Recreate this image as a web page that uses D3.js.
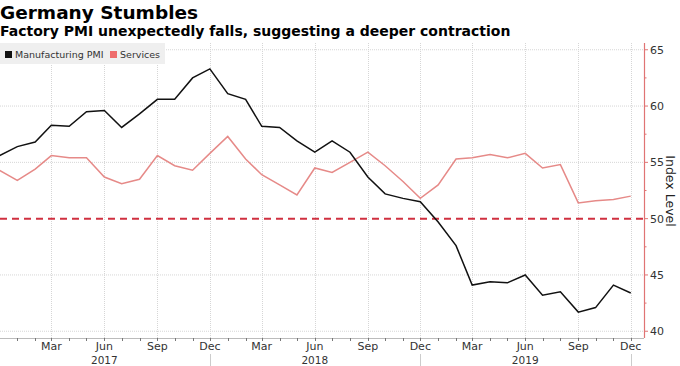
<!DOCTYPE html>
<html><head><meta charset="utf-8">
<script src="https://cdn.jsdelivr.net/npm/d3@7"></script>
<style>
html,body{margin:0;padding:0;background:#fff;}
svg{display:block;font-family:"DejaVu Sans",Verdana,sans-serif;}
</style></head>
<body>
<svg id="chart" width="680" height="366"></svg>
<script>
const months = ["2016-12","2017-01","2017-02","2017-03","2017-04","2017-05","2017-06","2017-07","2017-08","2017-09","2017-10","2017-11","2017-12",
"2018-01","2018-02","2018-03","2018-04","2018-05","2018-06","2018-07","2018-08","2018-09","2018-10","2018-11","2018-12",
"2019-01","2019-02","2019-03","2019-04","2019-05","2019-06","2019-07","2019-08","2019-09","2019-10","2019-11","2019-12"];
const manufacturing = [55.6,56.4,56.8,58.3,58.2,59.5,59.6,58.1,59.3,60.6,60.6,62.5,63.3,
61.1,60.6,58.2,58.1,56.9,55.9,56.9,55.9,53.7,52.2,51.8,51.5,
49.7,47.6,44.1,44.4,44.3,45.0,43.2,43.5,41.7,42.1,44.1,43.4];
const services = [54.3,53.4,54.4,55.6,55.4,55.4,53.7,53.1,53.5,55.6,54.7,54.3,55.8,
57.3,55.3,53.9,53.0,52.1,54.5,54.1,55.0,55.9,54.7,53.3,51.8,
53.0,55.3,55.4,55.7,55.4,55.8,54.5,54.8,51.4,51.6,51.7,52.0];
const seriesNames = ["Manufacturing PMI","Services"];
const yTicks = [40,45,50,55,60,65];
const yMinorTicks = [42.5,47.5,52.5,57.5,62.5];
const monthLabels = ["Mar","Jun","Sep","Dec"];
const years = [2017,2018,2019];
const threshold = 50;
const title = "Germany Stumbles";
const subtitle = "Factory PMI unexpectedly falls, suggesting a deeper contraction";
const yTitle = "Index Level";

const parse = d3.timeParse("%Y-%m");
const dates = months.map(parse);

const svg = d3.select("#chart");
const L = 0, R = 644, T = 43, B = 338;
const x = d3.scaleTime().domain([new Date(2016,11,2), new Date(2019,11,24)]).range([L, R]);
const y = d3.scaleLinear().domain([39.4, 65.6]).range([B, T]);

// titles
svg.append("text").attr("x",0).attr("y",19).attr("font-size",18.5).attr("font-weight","bold").attr("fill","#000").text(title);
svg.append("text").attr("x",0).attr("y",36).attr("font-size",14).attr("font-weight","bold").attr("fill","#000").text(subtitle);

// grid
const grid = svg.append("g");
yTicks.filter(v=>v!==threshold).forEach(v=>{
  grid.append("line").attr("x1",L).attr("x2",R).attr("y1",y(v)).attr("y2",y(v))
    .attr("stroke","#d6d6d6").attr("stroke-width",1).attr("stroke-dasharray","1,1");
});
const allMonths = d3.timeMonth.range(new Date(2016,11,1), new Date(2020,0,1)).filter(d=>x(d)>=L && x(d)<=R);
const quarterTicks = allMonths.filter(d=>[2,5,8,11].includes(d.getMonth()));
quarterTicks.forEach(d=>{
  grid.append("line").attr("x1",Math.round(x(d))+0.5).attr("x2",Math.round(x(d))+0.5).attr("y1",T).attr("y2",B)
    .attr("stroke","#d6d6d6").attr("stroke-width",1).attr("stroke-dasharray","1,1");
});

// bottom axis
const xAxis = svg.append("g");
xAxis.append("line").attr("x1",L).attr("x2",R).attr("y1",B+0.5).attr("y2",B+0.5).attr("stroke","#bbb");
allMonths.forEach(d=>{
  xAxis.append("line").attr("x1",Math.round(x(d))+0.5).attr("x2",Math.round(x(d))+0.5).attr("y1",B).attr("y2",B+3).attr("stroke","#777");
});
quarterTicks.forEach(d=>{
  xAxis.append("text").attr("x",x(d)).attr("y",350).attr("text-anchor","middle")
    .attr("font-size",11).attr("fill","#333").text(monthLabels[[2,5,8,11].indexOf(d.getMonth())]);
});
years.forEach(yr=>{
  const sep = new Date(yr,11,1);
  xAxis.append("line").attr("x1",Math.round(x(sep))+0.5).attr("x2",Math.round(x(sep))+0.5).attr("y1",354).attr("y2",366).attr("stroke","#ccc");
  xAxis.append("text").attr("x",x(new Date(yr,5,1))).attr("y",363.5).attr("text-anchor","middle")
    .attr("font-size",10.5).attr("fill","#333").text(yr);
});

// threshold line
svg.append("line").attr("x1",L).attr("x2",R).attr("y1",y(threshold)).attr("y2",y(threshold))
  .attr("stroke","#d03040").attr("stroke-width",2).attr("stroke-dasharray","7,5");

// lines
svg.append("clipPath").attr("id","clip").append("rect").attr("x",L).attr("y",T).attr("width",R-L).attr("height",B-T);
const line = d3.line().x((d,i)=>x(dates[i])).y(d=>y(d));
svg.append("path").datum(services).attr("clip-path","url(#clip)").attr("d",line)
  .attr("fill","none").attr("stroke","#e68a88").attr("stroke-width",1.5);
svg.append("path").datum(manufacturing).attr("clip-path","url(#clip)").attr("d",line)
  .attr("fill","none").attr("stroke","#111").attr("stroke-width",1.5);

// right axis
const yAxis = svg.append("g");
yAxis.append("line").attr("x1",R+0.5).attr("x2",R+0.5).attr("y1",T).attr("y2",B).attr("stroke","#e07474").attr("stroke-width",1.2);
yTicks.forEach(v=>{
  yAxis.append("line").attr("x1",R).attr("x2",R+4).attr("y1",y(v)).attr("y2",y(v)).attr("stroke","#e07474");
  yAxis.append("text").attr("x",650).attr("y",y(v)).attr("dy","0.36em").attr("font-size",11).attr("fill","#333").text(v);
});
yMinorTicks.forEach(v=>{
  yAxis.append("line").attr("x1",R).attr("x2",R+2.5).attr("y1",y(v)).attr("y2",y(v)).attr("stroke","#e07474");
});
svg.append("text").attr("transform","translate(666,191) rotate(90)").attr("text-anchor","middle")
  .attr("font-size",12.5).attr("fill","#222").text(yTitle);

// legend
const lg = svg.append("g");
lg.append("rect").attr("x",0).attr("y",43).attr("width",165).attr("height",21).attr("fill","#efefef");
const lcol = ["#111","#ee6b6b"];
const lx = [5,110];
seriesNames.forEach((n,i)=>{
  lg.append("rect").attr("x",lx[i]).attr("y",51).attr("width",7).attr("height",7).attr("fill",lcol[i]);
  lg.append("text").attr("x",lx[i]+10).attr("y",58).attr("font-size",9.5).attr("fill","#333").text(n);
});
</script>
</body></html>
